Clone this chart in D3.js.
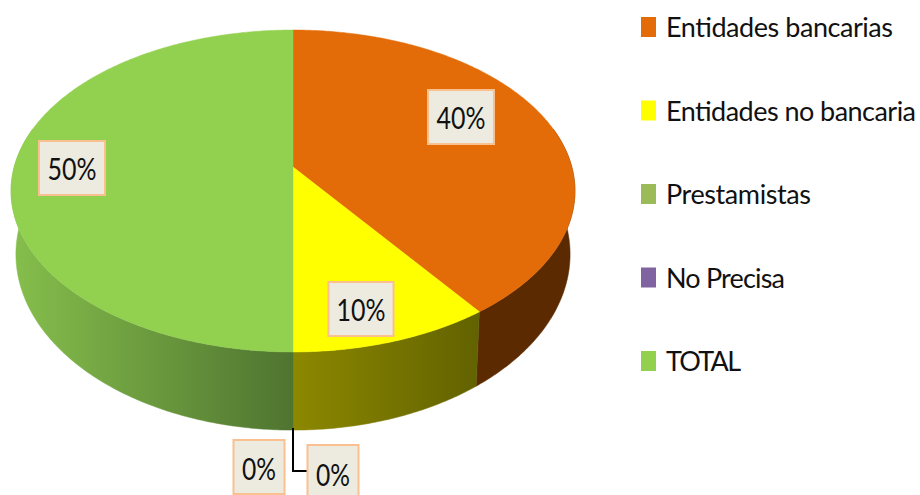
<!DOCTYPE html>
<html>
<head>
<meta charset="utf-8">
<script src="https://cdn.jsdelivr.net/npm/d3@7"></script>
<style>
    html, body { margin: 0; padding: 0; background: #fff; }
    svg { display: block; }
    text { font-family: Lato, "Open Sans", sans-serif; fill: #111; }
</style>
</head>
<body>
<div id="chart"></div>
<script>
// chart data
const categories = ["Entidades bancarias", "Entidades no bancaria", "Prestamistas", "No Precisa", "TOTAL"];
const values = [40, 10, 0, 0, 50];
const colors = ["#e36c09", "#ffff00", "#9bbb59", "#8064a2", "#92d050"];
const percentLabels = ["40%", "10%", "0%", "0%", "50%"];

// side wall shading, [left colour, right colour] of each slice
const wallShades = [
    ["#5c2a00", "#5c2a00"],
    ["#8c8800", "#626200"],
    ["#8c8800", "#8c8800"],
    ["#4f7430", "#4f7430"],
    ["#86bf4c", "#4f7430"]
];

// layout
const width = 920, height = 495;
const topFace = { x: 293, y: 167, a: 278.8, b: 157.4 };
const bottomFace = { x: 293, y: 228, a: 274, b: 172 };
const tilt = 0.149;
const labelCenters = [[461, 117], [361, 309], [259, 467], [333, 472], [72, 168]];
const labelSizes = [[66, 54], [65, 54], [51, 54], [51, 54], [66, 54]];
const labelBaselines = [12, 12, 13, 14, 12];
const labelTextWidths = [49, 49, 34, 34, 49];
const legendTextWidths = [227, 250, 145, 119, 75];
const leaderY = 471;

const svg = d3.select("#chart")
    .append("svg")
    .attr("width", width)
    .attr("height", height);

// perspective projection of a point on the pie rim, t is the clockwise angle from 12 o'clock
function project(face, t, r = 1) {
    const px = r * Math.sin(t), py = -r * Math.cos(t);
    const w = 1 - tilt * py;
    return [face.x + face.a * px / w, face.y + face.b * py / w];
}

function angleSteps(a0, a1) {
    const n = Math.max(2, Math.ceil((a1 - a0) / 0.01));
    return d3.range(n + 1).map(i => a0 + (a1 - a0) * i / n);
}

const arcs = d3.pie().sort(null).value(d => d)(values);
const line = d3.line();
const defs = svg.append("defs");

// side wall, only the front half shows
const wallFrom = Math.PI * 0.42, wallTo = Math.PI * 1.58;
const wall = svg.append("g");
arcs.forEach((d, i) => {
    const a0 = Math.max(d.startAngle, wallFrom), a1 = Math.min(d.endAngle, wallTo);
    if (a1 <= a0) return;
    const steps = angleSteps(a0, a1);
    const pts = steps.map(t => project(topFace, t))
        .concat(steps.slice().reverse().map(t => project(bottomFace, t)));

    const xs = d3.extent(pts, p => p[0]);
    const grad = defs.append("linearGradient")
        .attr("id", "wall" + i)
        .attr("gradientUnits", "userSpaceOnUse")
        .attr("x1", xs[0]).attr("x2", xs[1])
        .attr("y1", 0).attr("y2", 0);
    grad.append("stop").attr("offset", 0).attr("stop-color", wallShades[i][0]);
    grad.append("stop").attr("offset", 1).attr("stop-color", wallShades[i][1]);

    wall.append("path")
        .attr("d", line(pts) + "Z")
        .attr("fill", `url(#wall${i})`)
        .attr("stroke", `url(#wall${i})`)
        .attr("stroke-width", 0.5);
});

// top face
svg.append("g")
    .selectAll("path")
    .data(arcs.filter(d => d.value > 0))
    .enter()
    .append("path")
    .attr("d", d => {
        const pts = [[topFace.x, topFace.y]].concat(angleSteps(d.startAngle, d.endAngle).map(t => project(topFace, t)));
        return line(pts) + "Z";
    })
    .attr("fill", d => colors[d.index])
    .attr("stroke", d => colors[d.index])
    .attr("stroke-width", 0.5);

// leader line of the second 0% label
const leaderStart = project(bottomFace, arcs[3].startAngle);
const leaderBox = labelCenters[3][0] - labelSizes[3][0] / 2;
svg.append("path")
    .attr("d", line([[leaderStart[0], leaderStart[1] - 2], [leaderStart[0], leaderY], [leaderBox, leaderY]]))
    .attr("fill", "none")
    .attr("stroke", "#000")
    .attr("stroke-width", 2);

// data labels
const labels = svg.append("g")
    .selectAll("g")
    .data(percentLabels)
    .enter()
    .append("g")
    .attr("transform", (d, i) => `translate(${labelCenters[i][0]},${labelCenters[i][1]})`);

labels.append("rect")
    .attr("x", (d, i) => -labelSizes[i][0] / 2)
    .attr("y", (d, i) => -labelSizes[i][1] / 2)
    .attr("width", (d, i) => labelSizes[i][0])
    .attr("height", (d, i) => labelSizes[i][1])
    .attr("fill", "#edebe0")
    .attr("stroke", "#fac090")
    .attr("stroke-width", 2);

labels.append("text")
    .attr("text-anchor", "middle")
    .attr("y", (d, i) => labelBaselines[i])
    .attr("font-size", 30)
    .attr("textLength", (d, i) => labelTextWidths[i])
    .attr("lengthAdjust", "spacingAndGlyphs")
    .text(d => d);

// legend
const legendY = d3.scalePoint().domain(categories).range([27, 361]);

const legend = svg.append("g")
    .selectAll("g")
    .data(categories)
    .enter()
    .append("g")
    .attr("transform", d => `translate(641,${legendY(d)})`);

legend.append("rect")
    .attr("y", -10)
    .attr("width", 15)
    .attr("height", 20)
    .attr("fill", (d, i) => colors[i]);

legend.append("text")
    .attr("x", 25)
    .attr("y", 10)
    .attr("font-size", 27)
    .attr("textLength", (d, i) => legendTextWidths[i])
    .attr("lengthAdjust", "spacing")
    .text(d => d);
</script>
</body>
</html>
